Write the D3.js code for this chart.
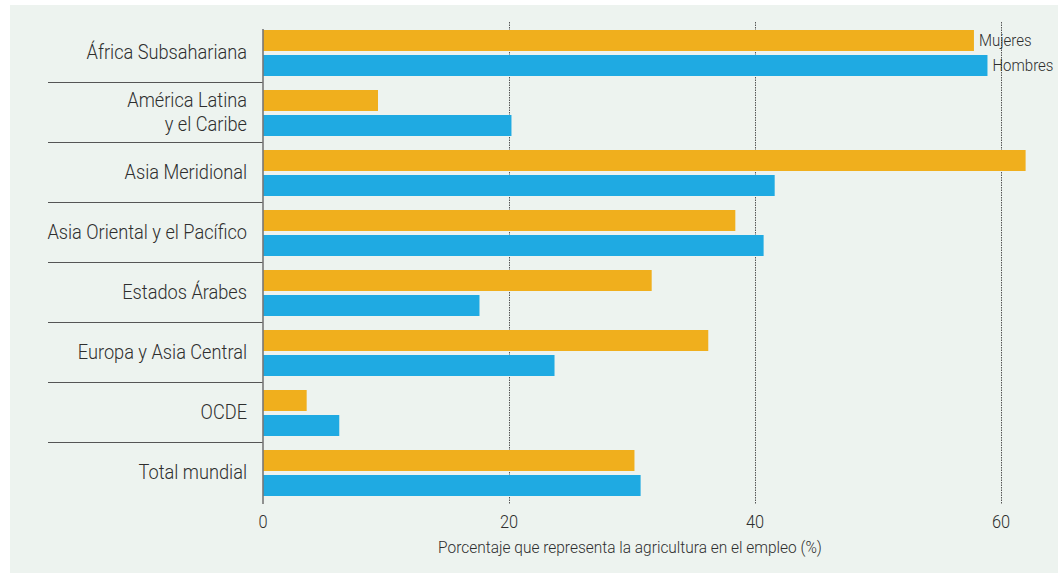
<!DOCTYPE html>
<html>
<head>
<meta charset="utf-8">
<script src="https://cdn.jsdelivr.net/npm/d3@7"></script>
<style>
  html, body { margin: 0; padding: 0; background: #ffffff; }
  svg { display: block; }
  text { font-family: "Roboto", "Liberation Sans", sans-serif; font-weight: 300; fill: #2e2e2e; }
</style>
</head>
<body>
<svg id="chart" width="1062" height="573"></svg>
<script>
// Share of employment in agriculture, by region and sex (%)
const regions = [
  ["África Subsahariana"],
  ["América Latina", "y el Caribe"],
  ["Asia Meridional"],
  ["Asia Oriental y el Pacífico"],
  ["Estados Árabes"],
  ["Europa y Asia Central"],
  ["OCDE"],
  ["Total mundial"]
];
const series = ["Mujeres", "Hombres"];
const mujeres = [57.8, 9.35, 62.0, 38.4, 31.6, 36.2, 3.55, 30.2];
const hombres = [58.9, 20.2, 41.6, 40.7, 17.6, 23.7, 6.2, 30.7];
const xTicks = [0, 20, 40, 60];
const xTitle = "Porcentaje que representa la agricultura en el empleo (%)";

const colors = { Mujeres: "#f0af1d", Hombres: "#1faae2" };
const NARROW = 0.91; // horizontal squeeze for a condensed look

const svg = d3.select("#chart");

// condensed text: a group anchored at (x, y), squeezed horizontally
function narrowText(parent, x, y, size, anchor) {
  return parent.append("g")
    .attr("transform", `translate(${x},${y}) scale(${NARROW},1)`)
    .append("text")
    .attr("font-size", size)
    .attr("text-anchor", anchor);
}

// panel background
svg.append("rect")
  .attr("x", 10).attr("y", 5)
  .attr("width", 1048).attr("height", 568)
  .attr("fill", "#edf3ef");

const keys = regions.map(r => r.join(" "));
const rows = keys.map((k, i) => ({ key: k, lines: regions[i], Mujeres: mujeres[i], Hombres: hombres[i] }));

const x = d3.scaleLinear().domain([0, 60]).range([263, 1001]);
const y = d3.scaleBand().domain(keys).range([22, 502]);
const ySub = d3.scaleBand().domain(series).range([8, 54]).paddingInner(0.16);

// dotted vertical gridlines
svg.append("g")
  .selectAll("line")
  .data(xTicks.filter(t => t > 0))
  .join("line")
  .attr("x1", d => Math.round(x(d)) + 0.5)
  .attr("x2", d => Math.round(x(d)) + 0.5)
  .attr("y1", 22).attr("y2", 504)
  .attr("stroke", "#555")
  .attr("stroke-width", 1)
  .attr("stroke-dasharray", "1.5,1");

// row separators in the label column
svg.append("g")
  .selectAll("line")
  .data(keys.slice(1))
  .join("line")
  .attr("x1", 48).attr("x2", 263)
  .attr("y1", d => Math.round(y(d)) + 0.5)
  .attr("y2", d => Math.round(y(d)) + 0.5)
  .attr("stroke", "#555")
  .attr("stroke-width", 1.2);

// bars
const groups = svg.append("g")
  .selectAll("g")
  .data(rows)
  .join("g")
  .attr("transform", d => `translate(0,${y(d.key)})`);

groups.selectAll("rect")
  .data(d => series.map(s => ({ s, v: d[s] })))
  .join("rect")
  .attr("x", x(0))
  .attr("y", d => ySub(d.s))
  .attr("width", d => x(d.v) - x(0))
  .attr("height", ySub.bandwidth())
  .attr("fill", d => colors[d.s]);

// category labels
const labelLayer = svg.append("g");
rows.forEach(d => {
  const n = d.lines.length;
  const t = narrowText(labelLayer, 247, y(d.key) + y.bandwidth() / 2, 20, "end");
  d.lines.forEach((line, j) => {
    t.append("tspan")
      .attr("x", 0)
      .attr("dy", j === 0 ? `${0.35 - (n - 1) * 0.58}em` : "1.16em")
      .text(line);
  });
});

// direct series labels at the first row
const first = rows[0];
const seriesLayer = svg.append("g");
series.forEach(s => {
  narrowText(seriesLayer, x(first[s]) + 5,
             y(first.key) + ySub(s) + ySub.bandwidth() / 2, 16.5, "start")
    .attr("dy", "0.35em")
    .text(s);
});

// vertical axis line
svg.append("line")
  .attr("x1", x(0)).attr("x2", x(0))
  .attr("y1", 29).attr("y2", 504)
  .attr("stroke", "#777")
  .attr("stroke-width", 1.6);

// x tick labels
const tickLayer = svg.append("g");
xTicks.forEach(d => {
  narrowText(tickLayer, x(d), 528, 18, "middle").text(d);
});

// x axis title
narrowText(svg, 630, 553, 17, "middle").text(xTitle);
</script>
</body>
</html>
